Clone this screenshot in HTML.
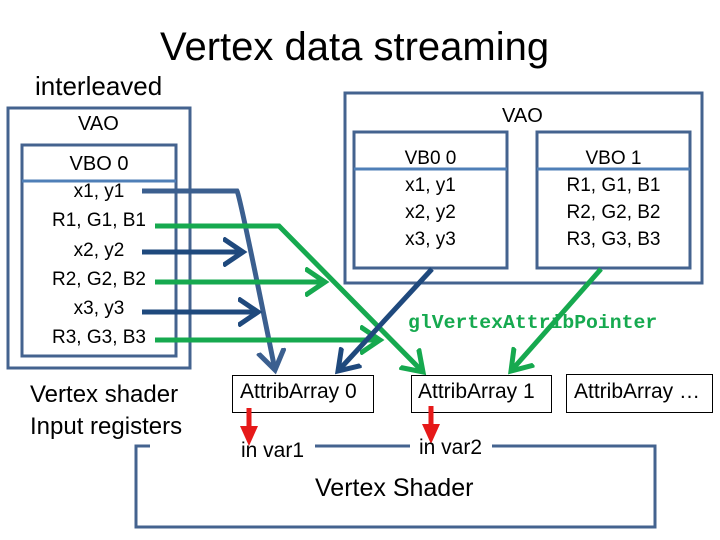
<!DOCTYPE html>
<html><head><style>
body{margin:0;width:720px;height:540px;background:#fff;position:relative;overflow:hidden;font-family:"Liberation Sans",sans-serif;color:#000}
.t{position:absolute;white-space:nowrap}
</style></head><body>
<svg width="720" height="540" style="position:absolute;left:0;top:0">
<defs>
<marker id="hb" markerWidth="6" markerHeight="6" refX="4" refY="3" orient="auto" markerUnits="strokeWidth"><path d="M0,0.3 L4,3 L0,5.7" fill="none" stroke="#1f497d" stroke-width="1"/></marker>
<marker id="hb2" markerWidth="6" markerHeight="6" refX="4" refY="3" orient="auto" markerUnits="strokeWidth"><path d="M0,0.3 L4,3 L0,5.7" fill="none" stroke="#3b5f8f" stroke-width="1"/></marker>
<marker id="hg" markerWidth="6" markerHeight="6" refX="4" refY="3" orient="auto" markerUnits="strokeWidth"><path d="M0,0.3 L4,3 L0,5.7" fill="none" stroke="#16a94f" stroke-width="1"/></marker>
</defs>
<g fill="none" stroke="#44638f" stroke-width="3">
<rect x="8" y="108" width="182" height="260"/>
<rect x="22" y="145" width="154" height="211"/>
<rect x="345" y="93" width="357" height="190"/>
<rect x="354" y="132" width="153" height="136"/>
<rect x="537" y="132" width="153" height="136"/>
<path d="M150,446 L136,446 L136,527 L655,527 L655,446 L492,446 M410,446 L315,446"/>
</g>
<g stroke="#4f7fb7" stroke-width="3"><line x1="22" y1="181" x2="176" y2="181"/><line x1="354" y1="169" x2="507" y2="169"/><line x1="537" y1="169" x2="690" y2="169"/></g>
<g fill="#fff" stroke="#000" stroke-width="1">
<rect x="232.5" y="375.5" width="141" height="37"/>
<rect x="411.5" y="375.5" width="140" height="37"/>
<rect x="566.5" y="374.5" width="146" height="38"/>
</g>
<g fill="none" stroke-width="5">
<path d="M142,191 L237,191 Q240,196 275,370" stroke="#3b5f8f" marker-end="url(#hb2)"/>
<line x1="142" y1="252" x2="243" y2="252" stroke="#1f497d" marker-end="url(#hb)"/>
<line x1="142" y1="312" x2="258" y2="312" stroke="#1f497d" marker-end="url(#hb)"/>
<path d="M155,226 L279,226 L423,372" stroke="#16a94f" marker-end="url(#hg)"/>
<line x1="155" y1="282" x2="325" y2="282" stroke="#16a94f" marker-end="url(#hg)"/>
<line x1="155" y1="340" x2="380" y2="340" stroke="#16a94f" marker-end="url(#hg)"/>
<line x1="432" y1="269" x2="338" y2="371" stroke="#1f497d" marker-end="url(#hb)"/>
<line x1="601" y1="269" x2="511" y2="371" stroke="#16a94f" marker-end="url(#hg)"/>
</g>
<g stroke="#e61919" stroke-width="5"><line x1="249" y1="408" x2="249" y2="428"/><line x1="431" y1="406" x2="431" y2="426"/></g>
<g fill="#e61919"><path d="M240,426 L258,426 L249,446Z"/><path d="M422,424 L440,424 L431,444Z"/></g>
<div></div>
</svg>
<div class="t" style="left:160px;top:25px;font-size:40px">Vertex data streaming</div>
<div class="t" style="left:35px;top:71px;font-size:26px">interleaved</div>
<div class="t" style="left:78px;top:113px;font-size:20px">VAO</div>
<div class="t" style="left:502px;top:105px;font-size:20px">VAO</div>
<div class="t" style="left:22px;top:150px;width:154px;text-align:center;font-size:20px;line-height:29.5px">VBO 0</div>
<div class="t" style="left:22px;top:177px;width:154px;text-align:center;font-size:19px;line-height:29.3px">x1, y1<br>R1, G1, B1<br>x2, y2<br>R2, G2, B2<br>x3, y3<br>R3, G3, B3</div>
<div class="t" style="left:354px;top:145px;width:153px;text-align:center;font-size:19px;line-height:27px">VB0 0<br>x1, y1<br>x2, y2<br>x3, y3</div>
<div class="t" style="left:537px;top:145px;width:153px;text-align:center;font-size:19px;line-height:27px">VBO 1<br>R1, G1, B1<br>R2, G2, B2<br>R3, G3, B3</div>
<div class="t" style="left:408px;top:312px;font-family:'Liberation Mono',monospace;font-weight:bold;font-size:19.8px;color:#16a94f">glVertexAttribPointer</div>
<div class="t" style="left:30px;top:379px;font-size:24px;line-height:32px">Vertex shader<br>Input registers</div>
<div class="t" style="left:240px;top:380px;font-size:21px">AttribArray 0</div>
<div class="t" style="left:418px;top:380px;font-size:21px">AttribArray 1</div>
<div class="t" style="left:574px;top:380px;font-size:21px">AttribArray …</div>
<div class="t" style="left:241px;top:439px;font-size:21px">in var1</div>
<div class="t" style="left:419px;top:436px;font-size:21px">in var2</div>
<div class="t" style="left:315px;top:474px;font-size:25px">Vertex Shader</div>
</body></html>
